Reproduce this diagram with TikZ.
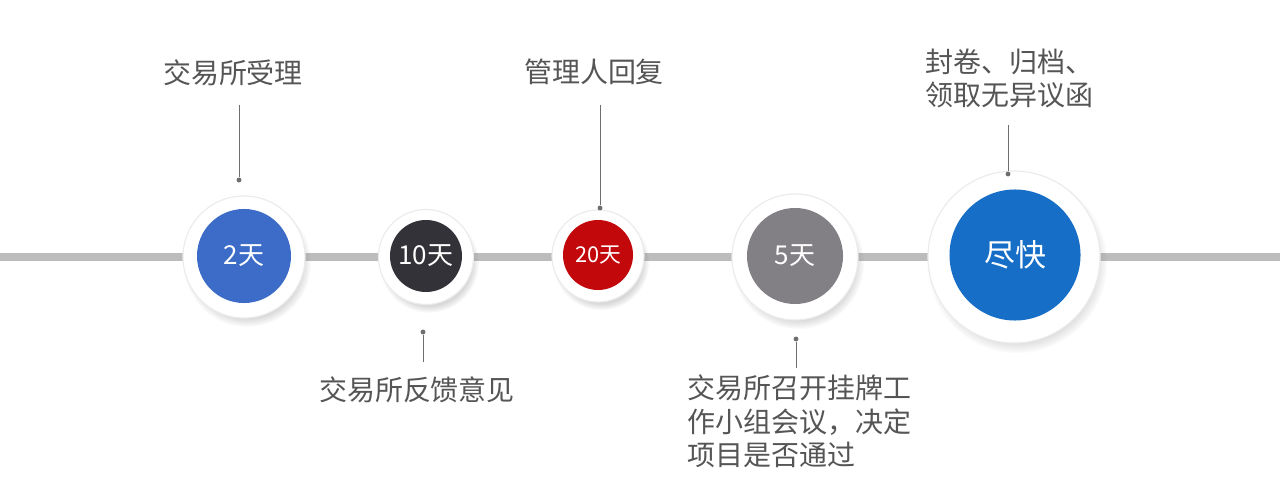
\documentclass[tikz,border=0pt]{standalone}
\usepackage{fontspec}
\setmainfont{Noto Sans CJK SC}
\usetikzlibrary{shadows}

\definecolor{LineGrey}{RGB}{188,188,188}
\definecolor{TextGrey}{RGB}{85,85,85}
\definecolor{StemGrey}{RGB}{110,110,110}
\definecolor{StepBlue}{RGB}{60,108,200}
\definecolor{StepDark}{RGB}{50,50,56}
\definecolor{StepRed}{RGB}{195,8,12}
\definecolor{StepGrey}{RGB}{130,128,132}
\definecolor{FinalBlue}{RGB}{22,110,198}

\tikzset{
  ring/.style={circle, fill=white, draw=black!8, line width=0.8pt, inner sep=0pt,
    circular drop shadow={shadow xshift=2pt, shadow yshift=-4pt, shadow scale=1.05, opacity=0.3}},
  core/.style={circle, inner sep=0pt, text=white},
  stem/.style={StemGrey, line width=0.7pt},
  dot/.style={circle, fill=StemGrey, inner sep=0pt, minimum size=3.5pt},
  note/.style={text=TextGrey, inner sep=0pt, font=\fontsize{19.9}{23.8}\selectfont}
}

\begin{document}
\begin{tikzpicture}[x=0.025cm, y=-0.025cm]
        \fill[white] (0,0) rectangle (1280,504);
        \useasboundingbox (0,0) rectangle (1280,504);

        % Timeline
        \coordinate (west) at (0,257);
        \coordinate (east) at (1280,257);
        \draw[LineGrey, line width=5pt] (west) -- (east);

        % Step 1
        \node[ring, minimum size=3.05cm] (r1) at (244,257) {};
        \node[core, fill=StepBlue, minimum size=2.35cm, font=\fontsize{18.5}{20}\selectfont] (c1) at (244,256) {2天};
        \node[note] (l1) at (233,73) {交易所受理};
        \coordinate (t1) at (239,105);
        \node[dot] (d1) at (239,180) {};
        \draw[stem] (t1) -- (d1);

        % Step 2
        \node[ring, minimum size=2.375cm] (r2) at (426,257) {};
        \node[core, fill=StepDark, minimum size=1.8cm, font=\fontsize{18.5}{20}\selectfont] (c2) at (426,256) {10天};
        \node[note] (l2) at (417,390) {交易所反馈意见};
        \node[dot] (d2) at (423,332) {};
        \coordinate (b2) at (423,362);
        \draw[stem] (d2) -- (b2);

        % Step 3
        \node[ring, minimum size=2.3cm] (r3) at (598,256) {};
        \node[core, fill=StepRed, minimum size=1.75cm, font=\fontsize{15.5}{17}\selectfont] (c3) at (598,255) {20天};
        \node[note] (l3) at (594,72) {管理人回复};
        \coordinate (t3) at (600,105);
        \node[dot] (d3) at (600,208) {};
        \draw[stem] (t3) -- (d3);

        % Step 4
        \node[ring, minimum size=3.15cm] (r4) at (795,257) {};
        \node[core, fill=StepGrey, minimum size=2.4cm, font=\fontsize{18.5}{20}\selectfont] (c4) at (795,256) {5天};
        \node[note, anchor=west, align=left] (l4) at (687,421.7) {交易所召开挂牌工\\作小组会议，决定\\项目是否通过};
        \node[dot] (d4) at (796,339) {};
        \coordinate (b4) at (796,368);
        \draw[stem] (d4) -- (b4);

        % Final step
        \node[ring, minimum size=4.3cm] (r5) at (1014,257) {};
        \node[core, fill=FinalBlue, minimum size=3.275cm, font=\fontsize{22}{24}\selectfont] (c5) at (1015,255) {尽快};
        \node[note, anchor=west, align=left] (l5) at (925,78.5) {封卷、归档、\\领取无异议函};
        \coordinate (t5) at (1008,125);
        \node[dot] (d5) at (1008,174) {};
        \draw[stem] (t5) -- (d5);
    \end{tikzpicture}
\end{document}
